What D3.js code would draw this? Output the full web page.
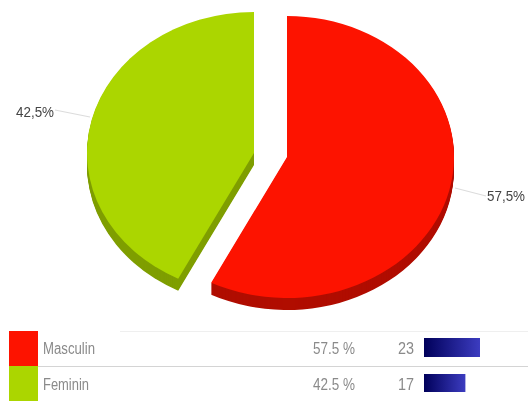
<!DOCTYPE html>
<html>
<head>
<meta charset="utf-8">
<script src="https://cdn.jsdelivr.net/npm/d3@7/dist/d3.min.js"></script>
<style>
html,body{margin:0;padding:0;background:#fff;overflow:hidden}
svg{display:block}
text{font-family:"Liberation Sans",Arial,sans-serif}
</style>
</head>
<body>
<svg id="c" width="528" height="401"></svg>
<script>
const categories = ["Masculin", "Feminin"];
const counts = [23, 17];
const percents = [57.5, 42.5];
const pieLabels = ["57,5%", "42,5%"];
const tableLabels = ["57.5 %", "42.5 %"];
const topColors = ["#fd1300", "#abd600"];
const sideColors = ["#b00d00", "#7f9e00"];

const svg = d3.select("#c");
const defs = svg.append("defs");
const grad = defs.append("linearGradient").attr("id", "bar");
grad.append("stop").attr("offset", "0%").attr("stop-color", "#00005a");
grad.append("stop").attr("offset", "100%").attr("stop-color", "#3c3cc0");
defs.append("filter").attr("id", "soft").append("feGaussianBlur").attr("stdDeviation", 0.35);

const RX = 167, RY = 141, DEPTH = 12;
const centers = [[287, 157], [254, 153]];
const labelPos = [[487, 201], [16, 117]];
const leaders = [[[455, 188], [486, 196]], [[55, 110], [90, 117]]];

const pie = d3.pie().sort(null).value(d => d);
const arcs = pie(percents);
const arc = d3.arc().innerRadius(0).outerRadius(1);

arcs.forEach((a, i) => {
  const g = svg.append("g");
  const [cx, cy] = centers[i];
  d3.range(DEPTH, 0, -1).forEach(dz => {
    g.append("path")
      .attr("transform", `translate(${cx},${cy + dz}) scale(${RX},${RY})`)
      .attr("d", arc(a)).attr("fill", sideColors[i]);
  });
  g.append("path")
    .attr("transform", `translate(${cx},${cy}) scale(${RX},${RY})`)
    .attr("d", arc(a)).attr("fill", topColors[i]);
  svg.append("line")
    .attr("x1", leaders[i][0][0]).attr("y1", leaders[i][0][1])
    .attr("x2", leaders[i][1][0]).attr("y2", leaders[i][1][1])
    .attr("stroke", "#dcdcdc").attr("stroke-width", 1.2);
  svg.append("text")
    .attr("x", labelPos[i][0]).attr("y", labelPos[i][1])
    .attr("font-size", 14).attr("fill", "#444").attr("filter", "url(#soft)")
    .attr("textLength", 38).attr("lengthAdjust", "spacingAndGlyphs")
    .text(pieLabels[i]);
});

// legend table
const rowY = d3.scaleBand().domain(categories).range([331, 401]);
const barX = d3.scaleLinear().domain([0, 23]).range([424, 480]);

svg.append("line").attr("x1", 120).attr("x2", 528).attr("y1", 331.5).attr("y2", 331.5).attr("stroke", "#efefef");
svg.append("line").attr("x1", 38).attr("x2", 528).attr("y1", 366.5).attr("y2", 366.5).attr("stroke", "#d4d4d4");

categories.forEach((c, i) => {
  const y = rowY(c), h = rowY.bandwidth();
  svg.append("rect").attr("x", 9).attr("y", y).attr("width", 29).attr("height", h).attr("fill", topColors[i]);
  const base = y + 23 + i;
  const txt = (x, s, len, anchor) => {
    const t = svg.append("text").attr("x", x).attr("y", base).attr("font-size", 16)
      .attr("fill", "#8a8a8a").attr("filter", "url(#soft)").attr("text-anchor", anchor || "start")
      .attr("lengthAdjust", "spacingAndGlyphs").text(s);
    if (len) t.attr("textLength", len);
  };
  txt(43, c, c === "Masculin" ? 52 : 46);
  txt(313, tableLabels[i], 42);
  txt(398, String(counts[i]), 16);
  svg.append("rect").attr("x", barX(0)).attr("y", y + 7 + i).attr("width", barX(counts[i]) - barX(0)).attr("height", 19 - i)
    .attr("fill", "url(#bar)");
});
</script>
</body>
</html>
